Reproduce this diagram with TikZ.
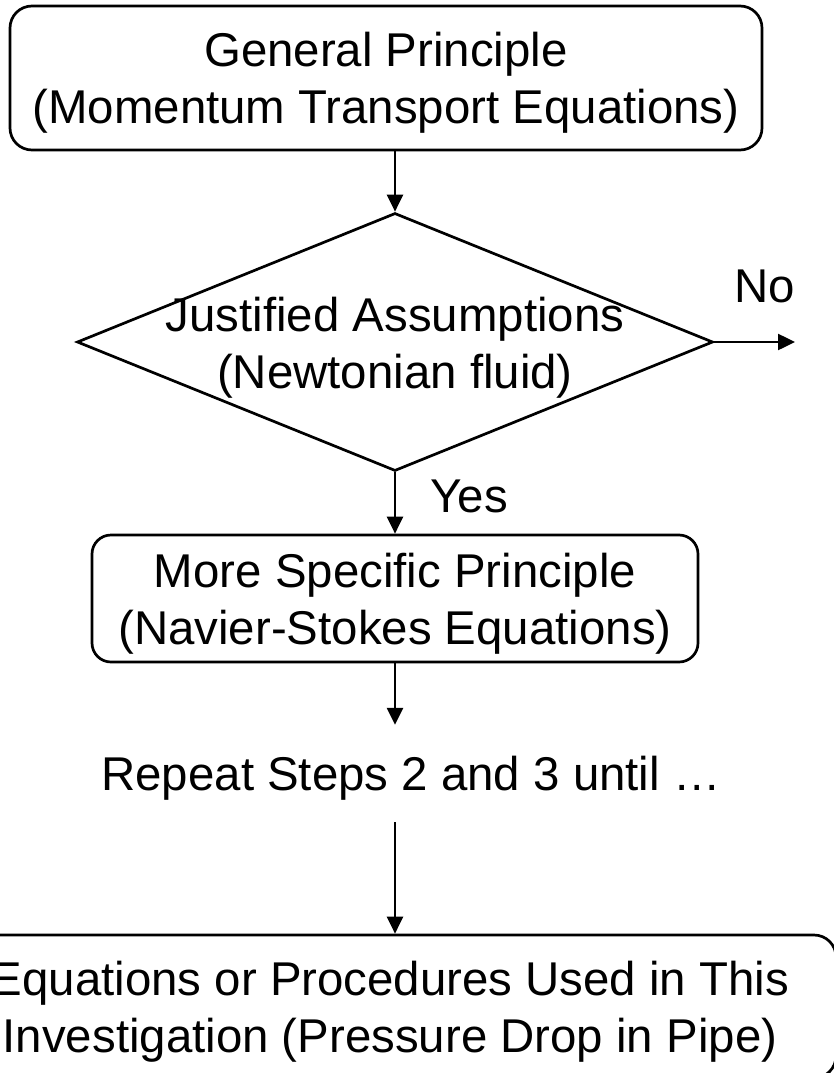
\documentclass[tikz,border=0pt]{standalone}
\usepackage{fontspec}
\setmainfont{Liberation Sans}
\usetikzlibrary{arrows.meta,shapes.geometric}
\begin{document}
\begin{tikzpicture}[x=1pt,y=-1pt,
  every node/.style={font=\fontsize{47.4}{57}\selectfont},
  box/.style={draw, line width=2.7pt, rounded corners=22pt, align=center, inner sep=0pt,
              text height=91pt, text depth=0pt},
  dtext/.style={align=center, inner sep=0pt, text height=90pt, text depth=0pt},
  decision/.style={diamond, draw, line width=2.7pt, inner sep=0pt},
  conn/.style={line width=2.5pt, -{Triangle[length=17pt,width=16pt]}}]
\useasboundingbox (0,0) rectangle (834,1073);

\node[box, minimum width=752pt, minimum height=144pt] (gp) at (386,78)
  {General Principle\\(Momentum Transport Equations)};
\node[decision, minimum width=636pt, minimum height=258pt] (dia) at (395,342) {};
\node[dtext] (dt) at (395,343) {Justified Assumptions\\(Newtonian fluid)};
\node[anchor=base, inner sep=0pt] (no) at (765,302) {No};
\coordinate (noend) at (795,342);
\node[anchor=base, inner sep=0pt] (yes) at (469,512) {Yes};
\node[box, rounded corners=19pt, minimum width=606pt, minimum height=127pt] (b2) at (395,598.5)
  {More Specific Principle\\(Navier-Stokes Equations)};
\node[inner xsep=0pt, inner ysep=31.5pt, text height=34pt, text depth=0pt] (rep) at (411,773.5)
  {Repeat Steps 2 and 3 until …};
\node[box, minimum width=892pt, minimum height=143pt] (fin) at (390,1006.5)
  {Equations or Procedures Used in This\\Investigation (Pressure Drop in Pipe)};

\draw[conn] (gp.south -| dia.north) -- (dia.north);
\draw[conn] (dia.east) -- (noend);
\draw[conn] (dia.south) -- (b2.north -| dia.south);
\draw[conn] (b2.south -| dia.south) -- (rep.north -| dia.south);
\draw[conn] (rep.south -| dia.south) -- (fin.north -| dia.south);
\end{tikzpicture}
\end{document}
